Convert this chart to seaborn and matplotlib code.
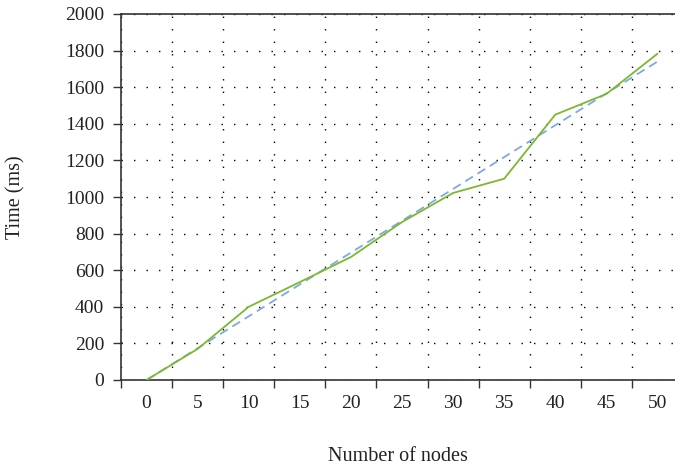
import matplotlib

matplotlib.use("Agg")
import matplotlib.pyplot as plt
from matplotlib.ticker import FixedLocator, NullFormatter
import pandas as pd
import seaborn as sns

# values
node_counts = [0, 5, 10, 15, 20, 25, 30, 35, 40, 45, 50]
measured_ms = [0, 170, 400, 535, 672, 863, 1022, 1100, 1450, 1563, 1783]
trend_ms = [0, 174, 348, 522, 696, 870, 1044, 1218, 1392, 1566, 1740]
y_ticks = [0, 200, 400, 600, 800, 1000, 1200, 1400, 1600, 1800, 2000]

GREEN = "#7cb82f"
BLUE = "#7fa9e0"
AXIS = "#333333"
TEXT = "#222222"
FS = 14

sns.set_style("ticks")
plt.rcParams["font.family"] = ["Liberation Serif", "DejaVu Serif"]

# category positions, like a spreadsheet line chart
df = pd.DataFrame(
    {
        "pos": range(len(node_counts)),
        "measured": measured_ms,
        "trend": trend_ms,
    }
)

fig = plt.figure(figsize=(6.75, 4.71), dpi=100)
ax = fig.add_axes([121 / 675, 1 - 380 / 471, 562 / 675, 366 / 471])

sns.lineplot(data=df, x="pos", y="trend", ax=ax, color=BLUE, linewidth=1.3,
             dashes=False, zorder=3)
ax.lines[-1].set_dashes((5, 3))
sns.lineplot(data=df, x="pos", y="measured", ax=ax, color=GREEN, linewidth=1.3,
             zorder=4)

ax.set_xlim(-0.5, len(node_counts) - 0.5)
ax.set_ylim(0, 2000)

# ticks at category boundaries, labels at centres
boundaries = [i - 0.5 for i in range(len(node_counts) + 1)]
ax.xaxis.set_major_locator(FixedLocator(boundaries))
ax.xaxis.set_major_formatter(NullFormatter())
ax.xaxis.set_minor_locator(FixedLocator(list(df["pos"])))
ax.set_xticklabels([str(n) for n in node_counts], minor=True)
ax.tick_params(axis="x", which="major", length=6, width=1, color=AXIS, direction="out")
ax.tick_params(axis="x", which="minor", length=0, pad=11, labelsize=FS, labelcolor=TEXT)

ax.set_yticks(y_ticks)
ax.tick_params(axis="y", length=6, width=1, color=AXIS, direction="out", pad=6,
               labelsize=FS, labelcolor=TEXT)

ax.grid(True, which="major", axis="both", color="black", linewidth=1,
        linestyle=(0, (1, 8)))

for side in ("left", "bottom", "top"):
    ax.spines[side].set_visible(True)
    ax.spines[side].set_color(AXIS)
    ax.spines[side].set_linewidth(1.2)
ax.spines["right"].set_visible(False)

ax.set_xlabel("Number of nodes", fontsize=FS + 0.5, color=TEXT)
ax.set_ylabel("Time (ms)", fontsize=FS + 0.5, color=TEXT)
ax.xaxis.set_label_coords(0.492, -0.183)
ax.yaxis.set_label_coords(-0.17, 0.5)

fig.savefig("out.png", dpi=100)
plt.close(fig)
